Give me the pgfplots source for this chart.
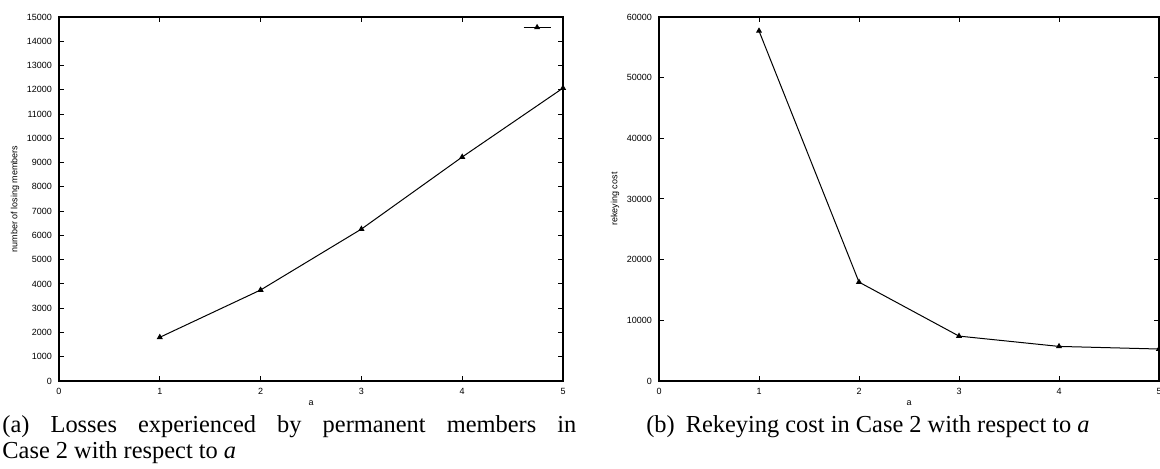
\documentclass[border=0pt]{standalone}
\usepackage{fontspec}
\setmainfont{Liberation Serif}
\newfontfamily\helv{Liberation Sans}
\usepackage{pgfplots}
\pgfplotsset{compat=1.18}
\begin{document}
\begin{tikzpicture}
\pgfplotsset{
  every axis/.append style={
    scale only axis,
    axis line style={line width=0.7pt},
    tick style={line width=0.5pt, black},
    tick align=inside,
    major tick length=2.5pt,
    xmin=0, xmax=5, xtick={0,1,2,3,4,5},
    ymin=0,
    tick label style={font=\helv\fontsize{4.5}{5}\selectfont},
    label style={font=\helv\fontsize{4.5}{5}\selectfont},
    /pgf/number format/assume math mode=true,
    scaled ticks=false,
    yticklabel style={/pgf/number format/fixed, /pgf/number format/1000 sep={}},
    xlabel={a},
    xlabel style={yshift=4pt},
    ylabel style={yshift=-3pt},
  },
}
\path[use as bounding box] (0,0) rectangle (580pt,234.5pt);
\begin{axis}[
  at={(29.5pt,44pt)}, anchor=south west,
  width=252pt, height=182pt,
  ymax=15000, ytick={0,1000,...,15000},
  ylabel={number of losing members},
  legend style={draw=none, fill=none, at={(0.997,0.993)}, anchor=north east,
    font=\helv\fontsize{4.5}{5}\selectfont, inner sep=1pt},
  legend image code/.code={\draw[#1, mark repeat=2, mark phase=2] plot coordinates {(0pt,0pt) (6.75pt,0pt) (13.5pt,0pt)};},
]
\addplot[black, line width=0.5pt, mark=triangle*, mark size=1.3pt] coordinates {
  (1,1800) (2,3750) (3,6260) (4,9230) (5,12070)
};
\addlegendentry{}
\end{axis}
\begin{axis}[
  at={(329.5pt,44pt)}, anchor=south west,
  width=250pt, height=182pt,
  ymax=60000, ytick={0,10000,...,60000},
  ylabel={rekeying cost},
]
\addplot[black, line width=0.5pt, mark=triangle*, mark size=1.3pt] coordinates {
  (1,57700) (2,16300) (3,7400) (4,5700) (5,5270)
};
\end{axis}
\node[anchor=north west, inner sep=0pt, text width=287pt, align=justify,
  font=\fontsize{12.2}{13}\selectfont] at (1pt,27pt)
  {(a) Losses experienced by permanent members in\linebreak Case 2 with respect to \textit{a}};
\node[anchor=north, inner sep=0pt, font=\fontsize{12.2}{13}\selectfont] at (434pt,27pt)
  {(b)\hspace{0.45em}Rekeying cost in Case 2 with respect to \textit{a}};
\end{tikzpicture}
\end{document}
